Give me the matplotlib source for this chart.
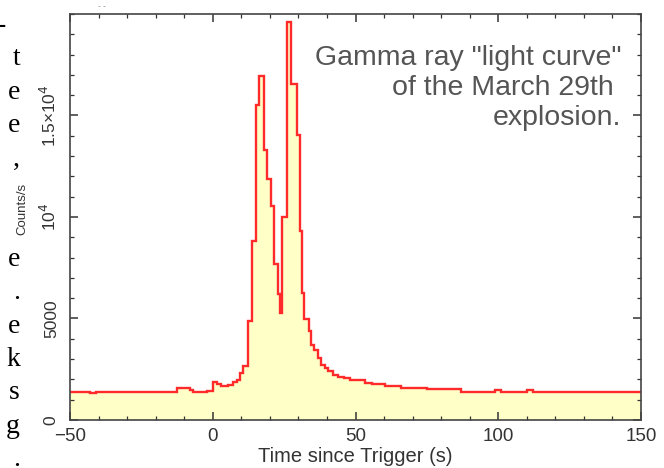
import matplotlib
matplotlib.use("Agg")
import matplotlib.pyplot as plt
from matplotlib.ticker import MultipleLocator

# Bin edges (s since trigger) and count rate per bin
bin_edges = [-50, -43, -41, -12.5, -8, -7, -2, 0, 1.5, 3, 5.5, 7, 8.5, 9.5, 10.5,
             12.2, 13.7, 15.1, 16.3, 18, 18.9, 20.4, 21.3, 23, 23.6, 24.2, 26.0,
             27.4, 29.5, 30.5, 31.3, 32.1, 33.6, 34.5, 35.6, 36.8, 37.8, 39.2,
             40.5, 42.2, 44.0, 45.8, 48.1, 50.5, 53.4, 55.8, 60.4, 66, 73, 75,
             87, 99, 101, 110, 112, 150]
counts = [1400, 1330, 1400, 1570, 1480, 1380, 1450, 1850, 1780, 1650, 1700,
          1850, 1980, 2330, 2640, 4870, 8830, 15540, 16960, 13280, 11880, 10560,
          7670, 6190, 5280, 9980, 19600, 16530, 14020, 9320, 6270, 4980, 4370,
          3710, 3470, 3050, 2720, 2560, 2390, 2230, 2140, 2060, 1980, 1950,
          1820, 1760, 1650, 1560, 1600, 1520, 1400, 1470, 1400, 1460, 1400]

ytick_vals = [0, 5000, 10000, 15000]
ytick_text = ["0", "5000", "10$^4$", "1.5\u00d710$^4$"]
xtick_vals = [-50, 0, 50, 100, 150]

note = 'Gamma ray "light curve"\nof the March 29th \nexplosion.'
# right-hand ends of the lines of the page text cut off at the left edge
side_chars = ["-", "t", "e", "e", ",", "", "", "e", ".", "e", "k", "s", "g", "."]

plt.rcParams['font.family'] = ['Liberation Sans', 'DejaVu Sans']

fig = plt.figure(figsize=(6.64, 4.68), dpi=100)
ax = fig.add_axes([0.1054, 0.1026, 0.8600, 0.8675])

ax.stairs(counts, bin_edges, baseline=0, fill=True, color='#ffffc8', lw=0)
ax.stairs(counts, bin_edges, baseline=None, color='#ff2a2a', lw=1.7)

ax.set_xlim(-50, 150)
ax.set_ylim(0, 20000)

ax.set_xticks(xtick_vals)
ax.set_yticks(ytick_vals)
ax.set_yticklabels(ytick_text, rotation=90, va='center')
ax.xaxis.set_minor_locator(MultipleLocator(10))
ax.yaxis.set_minor_locator(MultipleLocator(1000))

ax.tick_params(which='both', direction='in', top=True, right=True,
               colors='#333333')
ax.tick_params(which='major', length=6, width=1.1)
ax.tick_params(which='minor', length=3, width=0.9)
ax.tick_params(axis='x', pad=6, labelsize=13.5)
ax.tick_params(axis='y', pad=8, labelsize=12.5)
for s in ax.spines.values():
    s.set_color('#444444')
    s.set_linewidth(1.2)

ax.set_xlabel("Time since Trigger (s)", fontsize=14.5, color='#333333', labelpad=1)
ax.set_ylabel("Counts/s", fontsize=9.5, color='#333333')
ax.yaxis.set_label_coords(-0.072, 0.52)

ax.text(0.966, 0.924, note, transform=ax.transAxes, ha='right', va='top',
        fontsize=20.5, color='#555555', linespacing=1.2)

# fragments of the neighbouring page text
for i, ch in enumerate(side_chars):
    if not ch:
        continue
    x = 6 if ch == "-" else 20
    y = 468 - (32 + 33.4 * i)
    fig.text(x / 664, y / 468, ch, ha='right', va='baseline',
             fontsize=20, family='Liberation Serif', color='black')

fig.text(102 / 664, 462 / 468, "- -", ha='center', va='center', fontsize=6,
         color='#777777')

fig.savefig("out.png", dpi=100)
